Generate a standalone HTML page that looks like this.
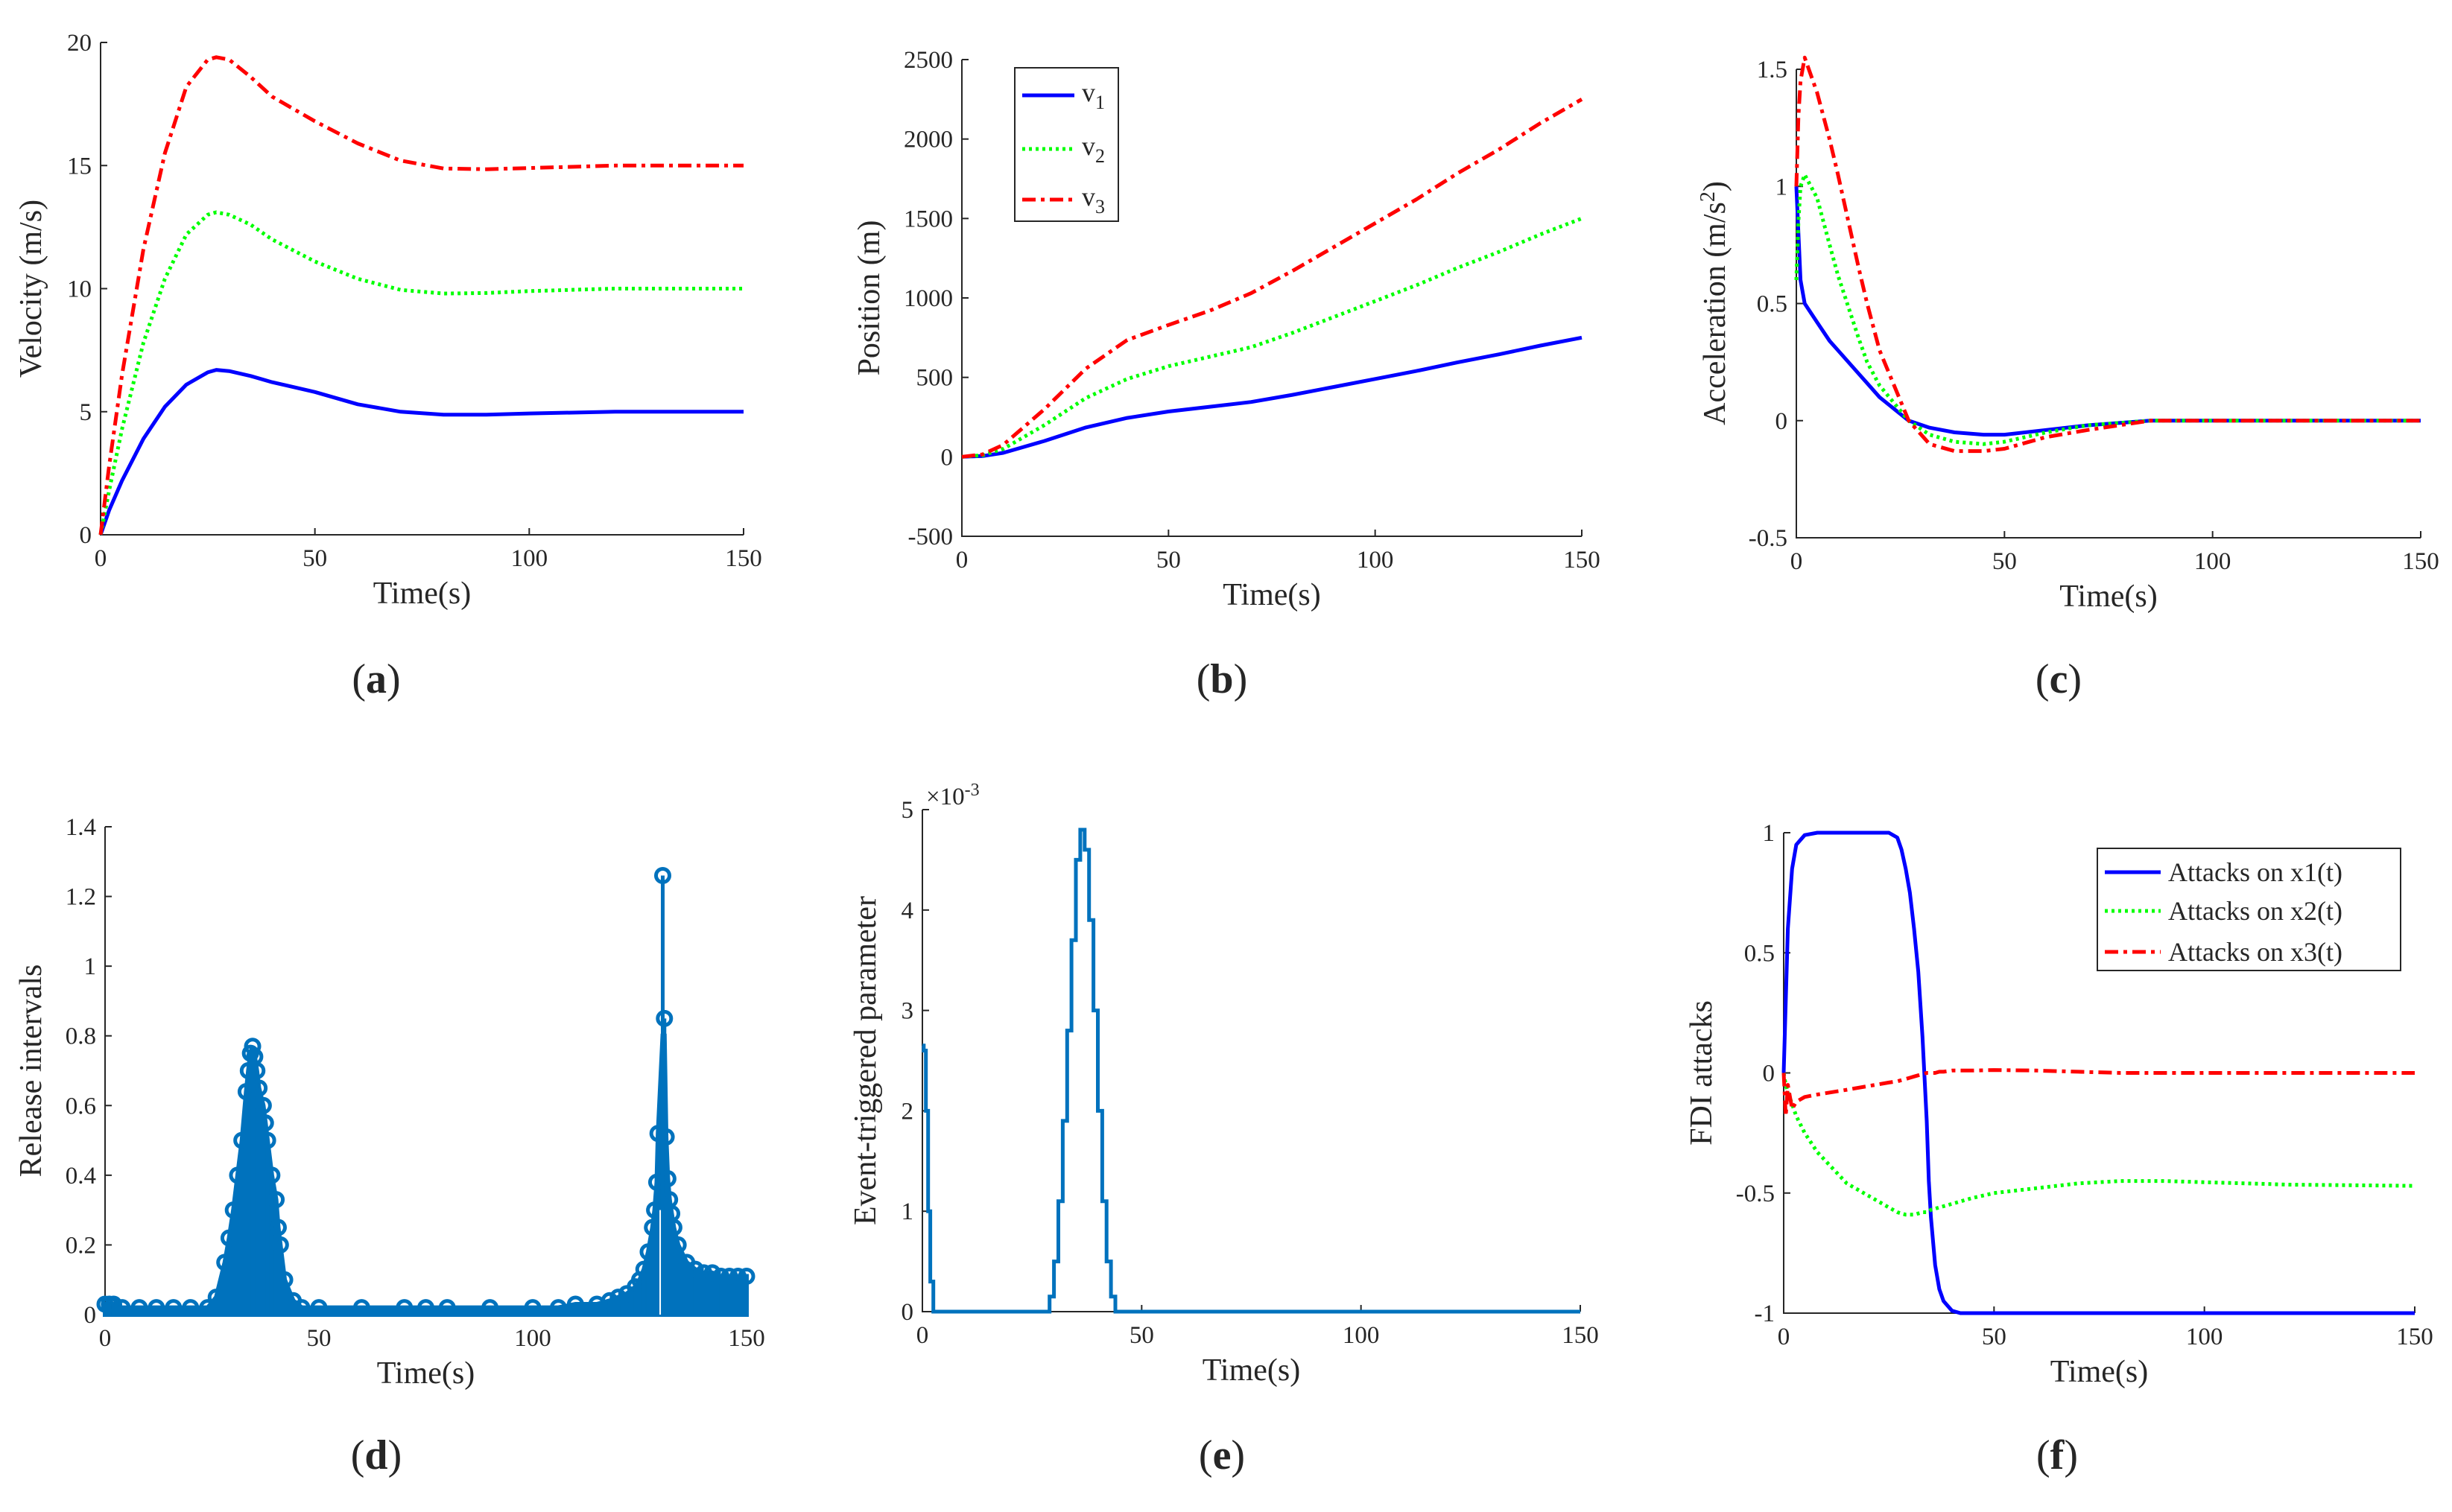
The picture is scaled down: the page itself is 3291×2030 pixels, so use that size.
<!DOCTYPE html>
<html><head><meta charset="utf-8"><style>
html,body{margin:0;padding:0;background:#fff}
svg{display:block}
text{font-family:"Liberation Serif",serif;fill:#262626}
</style></head><body>
<svg id="s" width="3291" height="2030" viewBox="0 0 3291 2030" xmlns="http://www.w3.org/2000/svg"></svg>
<script>
// ---------- data ----------
const tA=[0,2,5,10,15,20,25,27,30,35,40,50,60,70,80,90,100,120,150];
const v1=[0,1.0,2.2,3.9,5.2,6.1,6.6,6.7,6.65,6.45,6.2,5.8,5.3,5.0,4.88,4.88,4.93,5.0,5.0];
const v2=[0,1.8,4.3,7.8,10.4,12.2,13.0,13.1,13.0,12.6,12.0,11.1,10.4,9.95,9.8,9.82,9.9,10,10];
const v3=[0,2.8,6.5,11.6,15.5,18.2,19.3,19.4,19.3,18.6,17.8,16.8,15.9,15.2,14.88,14.85,14.9,15,15];
const tB=[0,5,10,20,30,40,50,60,70,80,90,100,110,120,130,140,150];
const p1=[0,5,25,100,185,245,285,315,345,390,440,490,540,595,645,700,750];
const p2=[0,10,50,200,370,490,570,630,690,780,880,980,1080,1190,1290,1400,1500];
const p3=[0,15,75,300,555,735,830,920,1030,1170,1320,1470,1620,1785,1935,2100,2250];
const tC=[0,0.5,1,2,5,8,10,15,17,20,27,32,38,45,50,60,70,85,100,150];
const a1=[1.0,0.8,0.6,0.5,0.42,0.34,0.3,0.2,0.16,0.1,0,-0.03,-0.05,-0.06,-0.06,-0.04,-0.02,0,0,0];
const a2=[0.6,0.85,1.0,1.05,0.95,0.75,0.62,0.35,0.25,0.15,0,-0.06,-0.09,-0.1,-0.09,-0.05,-0.02,0,0,0];
const a3=[1.0,1.3,1.45,1.55,1.4,1.2,1.05,0.65,0.5,0.3,0,-0.1,-0.13,-0.13,-0.12,-0.07,-0.04,0,0,0];
const tD=[0,1,2,4,8,12,16,20,24,26,28,29,30,31,32,33,33.5,34,34.5,35,35.5,36,37,37.5,38,39,40,40.5,41,42,44,46,50,60,70,75,80,90,100,106,110,115,118,120,122,124,125,126,127,128,128.5,129,129.3,130.4,130.8,131.2,131.6,132,132.5,133,134,136,138,140,142,144,146,148,150];
const rD=[0.03,0.03,0.03,0.02,0.02,0.02,0.02,0.02,0.02,0.05,0.15,0.22,0.3,0.4,0.5,0.64,0.7,0.75,0.77,0.74,0.7,0.65,0.6,0.55,0.5,0.4,0.33,0.25,0.2,0.1,0.04,0.02,0.02,0.02,0.02,0.02,0.02,0.02,0.02,0.02,0.03,0.03,0.04,0.05,0.06,0.08,0.1,0.13,0.18,0.25,0.3,0.38,0.52,1.26,0.85,0.51,0.39,0.33,0.29,0.25,0.2,0.15,0.13,0.12,0.12,0.11,0.11,0.11,0.11];
const tE=[0,0.3,0.8,1.3,1.8,2.5,27,29,30,31,32,33,34,35,36,37,38,39,40,41,42,43,44,150];
const eE=[2.65,2.6,2.0,1.0,0.3,0,0,0.15,0.5,1.1,1.9,2.8,3.7,4.5,4.8,4.6,3.9,3.0,2.0,1.1,0.5,0.15,0,0];
const tF=[0,0.5,1,2,3,5,8,15,25,27,28,29,30,31,32,33,34,34.5,35,36,37,38,40,42,45,50,60,70,80,90,100,110,120,150];
const f1=[0,0.3,0.6,0.85,0.95,0.99,1,1,1,0.98,0.93,0.85,0.75,0.6,0.42,0.15,-0.2,-0.45,-0.6,-0.8,-0.9,-0.95,-0.99,-1,-1,-1,-1,-1,-1,-1,-1,-1,-1,-1];
const f2=[0,-0.05,-0.08,-0.13,-0.18,-0.25,-0.33,-0.46,-0.56,-0.58,-0.585,-0.59,-0.59,-0.59,-0.585,-0.58,-0.58,-0.575,-0.57,-0.565,-0.56,-0.555,-0.545,-0.535,-0.52,-0.5,-0.48,-0.46,-0.45,-0.45,-0.455,-0.46,-0.465,-0.47];
const f3=[0,-0.18,-0.05,-0.15,-0.12,-0.1,-0.09,-0.07,-0.04,-0.035,-0.03,-0.025,-0.02,-0.015,-0.01,-0.005,0,0,0,0,0.005,0.005,0.01,0.01,0.01,0.012,0.01,0.005,0,0,0,0,0,0];
const xTicks=[0,50,100,150];
// ---------- helpers ----------
const S=document.getElementById('s');const NS='http://www.w3.org/2000/svg';
function mk(tag,at,txt){const e=document.createElementNS(NS,tag);for(const k in at)e.setAttribute(k,at[k]);if(txt!==undefined)e.textContent=txt;S.appendChild(e);return e;}
function axes(id,X0,X1,Y0,Y1,ymin,ymax,yt,ylab,ylabX){
  const sx=v=>X0+(v)/150*(X1-X0), sy=v=>Y0-(v-ymin)/(ymax-ymin)*(Y0-Y1);
  const ax=mk('path',{d:`M${X0} ${Y1}V${Y0}H${X1}`,stroke:'#262626','stroke-width':2,fill:'none'});
  
  xTicks.forEach(t=>{const x=sx(t);mk('line',{x1:x,x2:x,y1:Y0,y2:Y0-9,stroke:'#262626','stroke-width':2});
    const l=mk('text',{x:x,y:Y0+42,'font-size':33,'text-anchor':'middle'},t);});
  yt.forEach(t=>{const y=sy(t);mk('line',{x1:X0,x2:X0+9,y1:y,y2:y,stroke:'#262626','stroke-width':2});
    const l=mk('text',{x:X0-12,y:y+11,'font-size':33,'text-anchor':'end'},t);});
  const xl=mk('text',{x:(X0+X1)/2,y:Y0+92,'font-size':42,'text-anchor':'middle'},'Time(s)');
  
  if(ylab){const yl=mk('text',{x:0,y:0,'font-size':42,'text-anchor':'middle',transform:`translate(${ylabX},${(Y0+Y1)/2}) rotate(-90)`},ylab);
  }
  return {sx,sy};
}
function line(a,ts,vs,col,dash,name,w){
  const d=ts.map((t,i)=>(i?'L':'M')+a.sx(t).toFixed(1)+' '+a.sy(vs[i]).toFixed(1)).join('');
  const p=mk('path',{d,stroke:col,'stroke-width':w||5,fill:'none','stroke-dasharray':dash||'none','stroke-linejoin':'round'});
  return p;
}
function sub(label,x,y){const t=mk('text',{x:x,y:y,'font-size':56,'text-anchor':'middle'});t.innerHTML='(<tspan font-weight="bold">'+label+'</tspan>)';}
const BLUE='#0000ff',GREEN='#00ff00',RED='#ff0000',DOT='4 5',DD='18 7 5 7';
// (a)
let A=axes('a',135,998,718,57,0,20,[0,5,10,15,20],'Velocity (m/s)',55);
line(A,tA,v1,BLUE,null,'velocity-v1');line(A,tA,v2,GREEN,DOT,'velocity-v2');line(A,tA,v3,RED,DD,'velocity-v3');
sub('a',505,930);
// (b)
let B=axes('b',1291,2123,720,80,-500,2500,[-500,0,500,1000,1500,2000,2500],'Position (m)',1180);
line(B,tB,p1,BLUE,null,'position-v1');line(B,tB,p2,GREEN,DOT,'position-v2');line(B,tB,p3,RED,DD,'position-v3');
const lg=mk('rect',{x:1362,y:91,width:139,height:206,fill:'#fff',stroke:'#262626','stroke-width':2});
[[BLUE,null,128,'1'],[GREEN,DOT,200,'2'],[RED,DD,268,'3']].forEach(e=>{const l=mk('line',{x1:1372,x2:1442,y1:e[2],y2:e[2],stroke:e[0],'stroke-width':5,'stroke-dasharray':e[1]||'none'});
 const t=mk('text',{x:1452,y:e[2]+8,'font-size':36});t.innerHTML='v<tspan font-size="26" dy="10">'+e[3]+'</tspan>';});
sub('b',1640,930);
// (c)
let C=axes('c',2411,3249,722,93,-0.5,1.5,[-0.5,0,0.5,1,1.5],'',2315);
const yc=mk('text',{x:0,y:0,'font-size':42,'text-anchor':'middle',transform:'translate(2315,407) rotate(-90)'});yc.innerHTML='Acceleration (m/s<tspan font-size="28" dy="-14">2</tspan><tspan dy="14">)</tspan>';
line(C,tC,a1,BLUE,null,'accel-v1');line(C,tC,a2,GREEN,DOT,'accel-v2');line(C,tC,a3,RED,DD,'accel-v3');
sub('c',2763,930);
// (d)
let D=axes('d',141,1002,1765,1110,0,1.4,[0,0.2,0.4,0.6,0.8,1,1.2,1.4],'Release intervals',55);
const SB='#0072bd';
let fd='M'+D.sx(0)+' '+D.sy(0);tD.forEach((t,i)=>{fd+='L'+D.sx(t).toFixed(1)+' '+D.sy(Math.min(rD[i],0.8)).toFixed(1);});fd+='L'+D.sx(150)+' '+D.sy(0)+'Z';
const fa=mk('path',{d:fd,fill:SB,stroke:SB,'stroke-width':6});
tD.forEach((t,i)=>{const x=D.sx(t),y=D.sy(rD[i]);
 const st=mk('line',{x1:x,x2:x,y1:D.sy(0),y2:y,stroke:SB,'stroke-width':5});
 const c=mk('circle',{cx:x,cy:y,r:9,fill:'none',stroke:SB,'stroke-width':5});});
mk('line',{x1:D.sx(129.8),x2:D.sx(129.8),y1:D.sy(0),y2:D.sy(0.3),stroke:'#fff','stroke-width':2});
sub('d',505,1972);
// (e)
let E=axes('e',1238,2121,1761,1087,0,5,[0,1,2,3,4,5],'Event-triggered parameter',1175);
let ed='';tE.forEach((t,i)=>{const x=E.sx(t).toFixed(1),y=E.sy(eE[i]).toFixed(1);ed+=(i?'H'+x+'V'+y:'M'+x+' '+y);});
const ep=mk('path',{d:ed,stroke:SB,'stroke-width':5,fill:'none'});
const ex=mk('text',{x:1243,y:1080,'font-size':33});ex.innerHTML='×10<tspan font-size="24" dy="-12">-3</tspan>';
sub('e',1640,1972);
// (f)
let F=axes('f',2394,3241,1763,1118,-1,1,[-1,-0.5,0,0.5,1],'FDI attacks',2297);
line(F,tF,f1,BLUE,null,'attack-x1');line(F,tF,f2,GREEN,DOT,'attack-x2');line(F,tF,f3,RED,DD,'attack-x3');
const lf=mk('rect',{x:2815,y:1139,width:407,height:164,fill:'#fff',stroke:'#262626','stroke-width':2});
[[BLUE,null,1171,'Attacks on x1(t)'],[GREEN,DOT,1223,'Attacks on x2(t)'],[RED,DD,1278,'Attacks on x3(t)']].forEach(e=>{const l=mk('line',{x1:2825,x2:2900,y1:e[2],y2:e[2],stroke:e[0],'stroke-width':5,'stroke-dasharray':e[1]||'none'});
 mk('text',{x:2910,y:e[2]+12,'font-size':36},e[3]);});
sub('f',2761,1972);
</script>
</body></html>
